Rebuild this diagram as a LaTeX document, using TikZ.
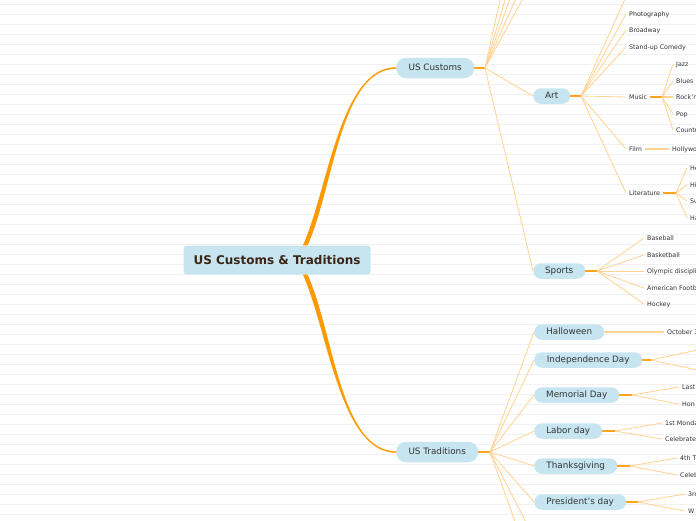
\documentclass[tikz,border=0pt]{standalone}
\usepackage{fontspec}
\setmainfont{DejaVu Sans}
\usetikzlibrary{positioning, calc}

\definecolor{pillblue}{RGB}{198,229,240}
\definecolor{mainorange}{RGB}{255,153,0}
\definecolor{stuborange}{RGB}{255,164,28}
\definecolor{twigorange}{RGB}{255,210,145}
\definecolor{inkgray}{RGB}{51,51,51}
\definecolor{rootink}{RGB}{58,36,22}
\definecolor{ruled}{RGB}{241,241,241}

\begin{document}
\begin{tikzpicture}[x=1pt, y=-1pt,
    rootbox/.style={fill=pillblue, rounded corners=3pt, minimum width=187pt, minimum height=29pt,
        inner sep=0pt, font=\fontsize{12}{14}\selectfont\bfseries, text=rootink},
    branch/.style={fill=pillblue, rounded corners=10pt, minimum width=#1, minimum height=20.5pt,
        inner sep=0pt, text height=6.4pt, text depth=0.8pt, font=\fontsize{8.8}{10}\selectfont, text=inkgray, anchor=west},
    topic/.style={fill=pillblue, rounded corners=7.75pt, minimum width=#1, minimum height=15.5pt,
        inner sep=0pt, text height=6.4pt, text depth=0.8pt, font=\fontsize{8.8}{10}\selectfont, text=inkgray, anchor=west},
    leaf/.style={inner sep=3pt, text height=4.8pt, text depth=0.2pt, font=\fontsize{6.3}{7.5}\selectfont, text=inkgray, anchor=west},
    stub/.style={draw=stuborange, line width=1.8pt},
    twig/.style={draw=twigorange, line width=0.8pt},
    twigwide/.style={draw=twigorange, line width=1.8pt}]

    \useasboundingbox (0,0) rectangle (696,520);
    \clip (0,0) rectangle (696,520);
    \fill[white] (0,0) rectangle (696,520);
    \foreach \k in {0,...,51}
        \draw[ruled, line width=0.8pt] (0,4.5+10*\k) -- (696,4.5+10*\k);

    % main topic and branches
    \node[rootbox] (root) at (277,260) {US Customs \& Traditions};
    \node[branch=78pt] (cust) at (396,68) {US Customs};
    \node[branch=82pt] (trad) at (396,452) {US Traditions};
    \fill[mainorange] ([xshift=26pt]root.north) .. controls +(25,-56) and +(-56,0) .. ([yshift=0.75pt]cust.west)
        -- ([yshift=-0.75pt]cust.west) .. controls +(-56,0) and +(26,-56) .. ([xshift=30.5pt]root.north) -- cycle;
    \fill[mainorange] ([xshift=26pt]root.south) .. controls +(25,56) and +(-56,0) .. ([yshift=-0.75pt]trad.west)
        -- ([yshift=0.75pt]trad.west) .. controls +(-56,0) and +(26,56) .. ([xshift=30.5pt]root.south) -- cycle;

    % US Customs
    \coordinate (custfork) at (485,68);
    \draw[stub] (cust.east) -- (custfork);
    \foreach \yy [count=\i] in {-20,-40,-65,-95,-150} {
        \coordinate (custoff\i) at (533,\yy);
        \draw[twig] (custfork) -- (custoff\i);
    }
    \node[topic=37pt] (art) at (533,96) {Art};
    \node[topic=52pt] (sports) at (533,271) {Sports};
    \draw[twig] (custfork) -- (art.west);
    \draw[twig] (custfork) -- (sports.west);

    \coordinate (artfork) at (581,96);
    \draw[stub] (art.east) -- (artfork);
    \coordinate (artoff) at (626,-3);
    \draw[twig] (artfork) -- (artoff);
    \foreach \name/\txt/\yy in {photo/Photography/14, broadway/Broadway/30, standup/Stand-up Comedy/47,
            music/Music/97, film/Film/149, lit/Literature/193} {
        \node[leaf] (\name) at (626,\yy) {\txt};
        \draw[twig] (artfork) -- (\name.west);
    }

    \coordinate (musicfork) at (662,97);
    \draw[stub] (music.east) -- (musicfork);
    \foreach \name/\txt/\yy in {jazz/Jazz/64, blues/Blues/81, rock/Rock'n'roll/97, pop/Pop/114, country/Country/130} {
        \node[leaf] (\name) at (673,\yy) {\txt};
        \draw[twig] (musicfork) -- (\name.west);
    }
    \draw[twigwide] (musicfork) -- (rock.west);

    \node[leaf] (holly) at (669,149) {Hollywood};
    \draw[twigwide] (film.east) -- (holly.west);

    \coordinate (litfork) at (676,193);
    \draw[stub] (lit.east) -- (litfork);
    \foreach \name/\txt/\yy in {lita/He/168, litb/Hi/185, litc/Su/201, litd/Ha/218} {
        \node[leaf] (\name) at (687,\yy) {\txt};
        \draw[twig] (litfork) -- (\name.west);
    }

    \coordinate (sportsfork) at (597,271);
    \draw[stub] (sports.east) -- (sportsfork);
    \foreach \name/\txt/\yy in {baseball/Baseball/238, basketball/Basketball/255, olympic/Olympic disciplines/271,
            football/American Football/288, hockey/Hockey/304} {
        \node[leaf] (\name) at (644,\yy) {\txt};
        \draw[twig] (sportsfork) -- (\name.west);
    }

    % US Traditions
    \coordinate (tradfork) at (490,452);
    \draw[stub] (trad.east) -- (tradfork);
    \foreach \name/\txt/\w/\yy in {halloween/Halloween/70/332, indep/Independence Day/108/360,
            memorial/Memorial Day/85/395, labor/Labor day/68/431,
            thanks/Thanksgiving/83/466, presid/President's day/92/502} {
        \node[topic=\w pt] (\name) at (534,\yy) {\txt};
        \draw[twig] (tradfork) -- (\name.west);
    }
    \foreach \yy [count=\i] in {538,574} {
        \coordinate (tradoff\i) at (534,\yy);
        \draw[twig] (tradfork) -- (tradoff\i);
    }

    \node[leaf] (oct) at (664,332) {October 31};
    \draw[twigwide] (halloween.east) -- (oct.west);

    \coordinate (indepfork) at (651,360);
    \draw[stub] (indep.east) -- (indepfork);
    \coordinate (indepoffa) at (702,349);
    \coordinate (indepoffb) at (702,371);
    \draw[twig] (indepfork) -- (indepoffa);
    \draw[twig] (indepfork) -- (indepoffb);

    \coordinate (memfork) at (632,395);
    \draw[stub] (memorial.east) -- (memfork);
    \node[leaf] (mema) at (679,387) {Last};
    \node[leaf] (memb) at (679,404) {Hon};
    \draw[twig] (memfork) -- (mema.west);
    \draw[twig] (memfork) -- (memb.west);

    \coordinate (laborfork) at (615,431);
    \draw[stub] (labor.east) -- (laborfork);
    \node[leaf] (labora) at (662,423) {1st Monday};
    \node[leaf] (laborb) at (662,439) {Celebrates};
    \draw[twig] (laborfork) -- (labora.west);
    \draw[twig] (laborfork) -- (laborb.west);

    \coordinate (thanksfork) at (630,466);
    \draw[stub] (thanks.east) -- (thanksfork);
    \node[leaf] (thanksa) at (677,458) {4th T};
    \node[leaf] (thanksb) at (677,475) {Celeb};
    \draw[twig] (thanksfork) -- (thanksa.west);
    \draw[twig] (thanksfork) -- (thanksb.west);

    \coordinate (presidfork) at (638,502);
    \draw[stub] (presid.east) -- (presidfork);
    \node[leaf] (presida) at (685,494) {3rd};
    \node[leaf] (presidb) at (685,511) {W};
    \draw[twig] (presidfork) -- (presida.west);
    \draw[twig] (presidfork) -- (presidb.west);
\end{tikzpicture}
\end{document}
